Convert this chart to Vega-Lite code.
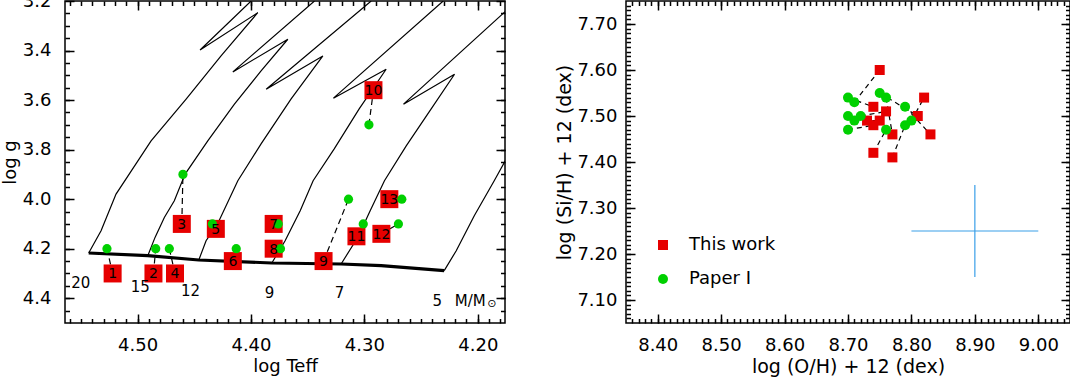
{
  "$schema": "https://vega.github.io/schema/vega-lite/v6.json",
  "padding": {"left": 0, "top": -9, "right": 0, "bottom": 0},
  "background": "white",
  "config": {
    "font": "DejaVu Sans",
    "view": {"stroke": "#000", "strokeWidth": 1.5},
    "axis": {"labelFont": "DejaVu Sans", "titleFont": "DejaVu Sans", "labelColor": "#000", "titleColor": "#000", "tickColor": "#000", "tickWidth": 1.5, "tickOpacity": 1, "grid": false, "domain": false, "titleFontWeight": "normal", "labelFontSize": 18, "titleFontSize": 18, "labelOverlap": false, "labelFlush": false},
    "legend": {"labelColor": "#000", "labelFont": "DejaVu Sans"}
  },
  "resolve": {"legend": {"color": "independent", "shape": "independent"}},
  "datasets": {
    "tracks": [
      {"t": "20", "i": 1, "logT": 4.5431, "logg": 4.2173},
      {"t": "20", "i": 2, "logT": 4.5322, "logg": 4.1274},
      {"t": "20", "i": 3, "logT": 4.5190, "logg": 3.9794},
      {"t": "20", "i": 4, "logT": 4.4881, "logg": 3.7645},
      {"t": "20", "i": 5, "logT": 4.4572, "logg": 3.5964},
      {"t": "20", "i": 6, "logT": 4.4264, "logg": 3.4218},
      {"t": "20", "i": 7, "logT": 4.3940, "logg": 3.2472},
      {"t": "20", "i": 8, "logT": 4.4449, "logg": 3.3976},
      {"t": "20", "i": 9, "logT": 4.3999, "logg": 3.2},
      {"t": "15", "i": 1, "logT": 4.4910, "logg": 4.2282},
      {"t": "15", "i": 2, "logT": 4.4846, "logg": 4.1544},
      {"t": "15", "i": 3, "logT": 4.4764, "logg": 4.0738},
      {"t": "15", "i": 4, "logT": 4.4676, "logg": 4.0065},
      {"t": "15", "i": 5, "logT": 4.4581, "logg": 3.8988},
      {"t": "15", "i": 6, "logT": 4.4381, "logg": 3.7645},
      {"t": "15", "i": 7, "logT": 4.4146, "logg": 3.6165},
      {"t": "15", "i": 8, "logT": 4.3911, "logg": 3.4823},
      {"t": "15", "i": 9, "logT": 4.3675, "logg": 3.3544},
      {"t": "15", "i": 10, "logT": 4.4160, "logg": 3.4863},
      {"t": "15", "i": 11, "logT": 4.3440, "logg": 3.2},
      {"t": "12", "i": 1, "logT": 4.4460, "logg": 4.2456},
      {"t": "12", "i": 2, "logT": 4.4396, "logg": 4.1677},
      {"t": "12", "i": 3, "logT": 4.4294, "logg": 4.0992},
      {"t": "12", "i": 4, "logT": 4.4116, "logg": 3.9258},
      {"t": "12", "i": 5, "logT": 4.3911, "logg": 3.7766},
      {"t": "12", "i": 6, "logT": 4.3646, "logg": 3.5952},
      {"t": "12", "i": 7, "logT": 4.3366, "logg": 3.4218},
      {"t": "12", "i": 8, "logT": 4.3866, "logg": 3.5561},
      {"t": "12", "i": 9, "logT": 4.2940, "logg": 3.2},
      {"t": "9", "i": 1, "logT": 4.3816, "logg": 4.2577},
      {"t": "9", "i": 2, "logT": 4.3699, "logg": 4.1677},
      {"t": "9", "i": 3, "logT": 4.3566, "logg": 4.0468},
      {"t": "9", "i": 4, "logT": 4.3452, "logg": 3.9258},
      {"t": "9", "i": 5, "logT": 4.3266, "logg": 3.7968},
      {"t": "9", "i": 6, "logT": 4.3046, "logg": 3.6355},
      {"t": "9", "i": 7, "logT": 4.2808, "logg": 3.4754},
      {"t": "9", "i": 8, "logT": 4.3273, "logg": 3.5923},
      {"t": "9", "i": 9, "logT": 4.2305, "logg": 3.2},
      {"t": "7", "i": 1, "logT": 4.3205, "logg": 4.2617},
      {"t": "7", "i": 2, "logT": 4.3055, "logg": 4.1516},
      {"t": "7", "i": 3, "logT": 4.2949, "logg": 4.0468},
      {"t": "7", "i": 4, "logT": 4.2823, "logg": 3.9258},
      {"t": "7", "i": 5, "logT": 4.2631, "logg": 3.7847},
      {"t": "7", "i": 6, "logT": 4.2411, "logg": 3.6355},
      {"t": "7", "i": 7, "logT": 4.2205, "logg": 3.4956},
      {"t": "7", "i": 8, "logT": 4.2655, "logg": 3.6165},
      {"t": "7", "i": 9, "logT": 4.1740, "logg": 3.2350},
      {"t": "5", "i": 1, "logT": 4.2296, "logg": 4.2887},
      {"t": "5", "i": 2, "logT": 4.2190, "logg": 4.2081},
      {"t": "5", "i": 3, "logT": 4.2031, "logg": 4.0669},
      {"t": "5", "i": 4, "logT": 4.1855, "logg": 3.9258},
      {"t": "5", "i": 5, "logT": 4.1740, "logg": 3.8300}
    ],
    "zams": [
      {"i": 1, "logT": 4.5431, "logg": 4.2173},
      {"i": 2, "logT": 4.4910, "logg": 4.2282},
      {"i": 3, "logT": 4.4460, "logg": 4.2456},
      {"i": 4, "logT": 4.3816, "logg": 4.2577},
      {"i": 5, "logT": 4.3205, "logg": 4.2617},
      {"i": 6, "logT": 4.2852, "logg": 4.2685},
      {"i": 7, "logT": 4.2296, "logg": 4.2887}
    ],
    "hr": [
      {"star": "1", "src": "This work", "logT": 4.522, "logg": 4.30},
      {"star": "2", "src": "This work", "logT": 4.486, "logg": 4.30},
      {"star": "3", "src": "This work", "logT": 4.461, "logg": 4.10},
      {"star": "4", "src": "This work", "logT": 4.467, "logg": 4.30},
      {"star": "5", "src": "This work", "logT": 4.431, "logg": 4.12},
      {"star": "6", "src": "This work", "logT": 4.416, "logg": 4.25},
      {"star": "7", "src": "This work", "logT": 4.380, "logg": 4.10},
      {"star": "8", "src": "This work", "logT": 4.380, "logg": 4.20},
      {"star": "9", "src": "This work", "logT": 4.336, "logg": 4.25},
      {"star": "10", "src": "This work", "logT": 4.292, "logg": 3.56},
      {"star": "11", "src": "This work", "logT": 4.307, "logg": 4.15},
      {"star": "12", "src": "This work", "logT": 4.285, "logg": 4.14},
      {"star": "13", "src": "This work", "logT": 4.278, "logg": 4.00},
      {"star": "1", "src": "Paper I", "logT": 4.527, "logg": 4.20},
      {"star": "2", "src": "Paper I", "logT": 4.484, "logg": 4.20},
      {"star": "3", "src": "Paper I", "logT": 4.460, "logg": 3.90},
      {"star": "4", "src": "Paper I", "logT": 4.472, "logg": 4.20},
      {"star": "5", "src": "Paper I", "logT": 4.434, "logg": 4.10},
      {"star": "6", "src": "Paper I", "logT": 4.413, "logg": 4.20},
      {"star": "7", "src": "Paper I", "logT": 4.376, "logg": 4.10},
      {"star": "8", "src": "Paper I", "logT": 4.374, "logg": 4.20},
      {"star": "9", "src": "Paper I", "logT": 4.314, "logg": 4.00},
      {"star": "10", "src": "Paper I", "logT": 4.296, "logg": 3.70},
      {"star": "11", "src": "Paper I", "logT": 4.301, "logg": 4.10},
      {"star": "12", "src": "Paper I", "logT": 4.270, "logg": 4.10},
      {"star": "13", "src": "Paper I", "logT": 4.267, "logg": 4.00}
    ],
    "masses": [
      {"label": "20", "logT": 4.550, "logg": 4.340},
      {"label": "15", "logT": 4.4976, "logg": 4.353},
      {"label": "12", "logT": 4.4534, "logg": 4.369},
      {"label": "9", "logT": 4.3837, "logg": 4.380},
      {"label": "7", "logT": 4.322, "logg": 4.380},
      {"label": "5", "logT": 4.2358, "logg": 4.410},
      {"label": "M/M", "logT": 4.2066, "logg": 4.410}
    ],
    "sun": [
      {"label": "⊙", "logT": 4.1875, "logg": 4.424}
    ],
    "abund": [
      {"star": "1", "src": "This work", "OH": 8.75, "SiH": 7.60},
      {"star": "2", "src": "This work", "OH": 8.82, "SiH": 7.54},
      {"star": "3", "src": "This work", "OH": 8.83, "SiH": 7.46},
      {"star": "4", "src": "This work", "OH": 8.77, "SiH": 7.41},
      {"star": "5", "src": "This work", "OH": 8.74, "SiH": 7.42},
      {"star": "6", "src": "This work", "OH": 8.81, "SiH": 7.50},
      {"star": "7", "src": "This work", "OH": 8.77, "SiH": 7.46},
      {"star": "8", "src": "This work", "OH": 8.74, "SiH": 7.52},
      {"star": "9", "src": "This work", "OH": 8.76, "SiH": 7.51},
      {"star": "10", "src": "This work", "OH": 8.73, "SiH": 7.49},
      {"star": "11", "src": "This work", "OH": 8.75, "SiH": 7.49},
      {"star": "12", "src": "This work", "OH": 8.74, "SiH": 7.48},
      {"star": "1", "src": "Paper I", "OH": 8.71, "SiH": 7.53},
      {"star": "2", "src": "Paper I", "OH": 8.80, "SiH": 7.49},
      {"star": "3", "src": "Paper I", "OH": 8.79, "SiH": 7.52},
      {"star": "4", "src": "Paper I", "OH": 8.79, "SiH": 7.48},
      {"star": "5", "src": "Paper I", "OH": 8.76, "SiH": 7.47},
      {"star": "6", "src": "Paper I", "OH": 8.75, "SiH": 7.55},
      {"star": "7", "src": "Paper I", "OH": 8.76, "SiH": 7.54},
      {"star": "8", "src": "Paper I", "OH": 8.70, "SiH": 7.54},
      {"star": "9", "src": "Paper I", "OH": 8.72, "SiH": 7.50},
      {"star": "10", "src": "Paper I", "OH": 8.70, "SiH": 7.50},
      {"star": "11", "src": "Paper I", "OH": 8.71, "SiH": 7.49},
      {"star": "12", "src": "Paper I", "OH": 8.70, "SiH": 7.47}
    ],
    "errh": [{"OH": 8.80, "OH2": 9.00, "SiH": 7.25}],
    "errv": [{"OH": 8.90, "SiH": 7.15, "SiH2": 7.35}]
  },
  "hconcat": [
    {
      "width": 440,
      "height": 322,
      "resolve": {"axis": {"x": "independent", "y": "independent"}},
      "layer": [
        {
          "data": {"name": "tracks"},
          "mark": {"type": "line", "color": "#000", "strokeWidth": 1.2, "clip": true},
          "encoding": {
            "x": {"field": "logT", "type": "quantitative", "scale": {"domain": [4.176, 4.564], "reverse": true, "zero": false, "nice": false},
              "axis": {"orient": "bottom", "values": [4.2, 4.3, 4.4, 4.5], "format": ".2f", "tickSize": -9, "labelPadding": 22, "title": "log Teff", "titlePadding": 3}},
            "y": {"field": "logg", "type": "quantitative", "scale": {"domain": [3.2, 4.5], "reverse": true, "zero": false, "nice": false},
              "axis": {"orient": "left", "values": [3.2, 3.4, 3.6, 3.8, 4.0, 4.2, 4.4], "format": ".1f", "tickSize": -9, "labelPadding": 23, "title": "log g", "titlePadding": 3}},
            "detail": {"field": "t"},
            "order": {"field": "i", "type": "quantitative"}
          }
        },
        {
          "data": {"name": "zams"},
          "mark": {"type": "line", "color": "#000", "strokeWidth": 3.2, "clip": true},
          "encoding": {
            "x": {"field": "logT", "type": "quantitative", "scale": {"domain": [4.176, 4.564], "reverse": true, "zero": false, "nice": false},
              "axis": {"orient": "bottom", "values": [4.18, 4.19, 4.2, 4.21, 4.22, 4.23, 4.24, 4.25, 4.26, 4.27, 4.28, 4.29, 4.3, 4.31, 4.32, 4.33, 4.34, 4.35, 4.36, 4.37, 4.38, 4.39, 4.4, 4.41, 4.42, 4.43, 4.44, 4.45, 4.46, 4.47, 4.48, 4.49, 4.5, 4.51, 4.52, 4.53, 4.54, 4.55, 4.56], "tickSize": -4.5, "labels": false, "title": null}},
            "y": {"field": "logg", "type": "quantitative", "scale": {"domain": [3.2, 4.5], "reverse": true, "zero": false, "nice": false},
              "axis": {"orient": "left", "values": [3.25, 3.3, 3.35, 3.4, 3.45, 3.5, 3.55, 3.6, 3.65, 3.7, 3.75, 3.8, 3.85, 3.9, 3.95, 4.0, 4.05, 4.1, 4.15, 4.2, 4.25, 4.3, 4.35, 4.4, 4.45], "tickSize": -4.5, "labels": false, "title": null}},
            "order": {"field": "i", "type": "quantitative"}
          }
        },
        {
          "data": {"name": "hr"},
          "mark": {"type": "line", "color": "#000", "strokeWidth": 1.2, "strokeDash": [6, 4]},
          "encoding": {
            "x": {"field": "logT", "type": "quantitative", "scale": {"domain": [4.176, 4.564], "reverse": true, "zero": false, "nice": false},
              "axis": {"orient": "top", "values": [4.2, 4.3, 4.4, 4.5], "tickSize": -9, "labels": false, "title": null}},
            "y": {"field": "logg", "type": "quantitative", "scale": {"domain": [3.2, 4.5], "reverse": true, "zero": false, "nice": false},
              "axis": {"orient": "right", "values": [3.2, 3.4, 3.6, 3.8, 4.0, 4.2, 4.4], "tickSize": -9, "labels": false, "title": null}},
            "detail": {"field": "star"}
          }
        },
        {
          "data": {"name": "hr"},
          "transform": [{"filter": "datum.src === 'This work'"}],
          "mark": {"type": "square", "color": "#e60000", "filled": true, "opacity": 1, "size": 324},
          "encoding": {
            "x": {"field": "logT", "type": "quantitative", "scale": {"domain": [4.176, 4.564], "reverse": true, "zero": false, "nice": false},
              "axis": {"orient": "top", "values": [4.18, 4.19, 4.2, 4.21, 4.22, 4.23, 4.24, 4.25, 4.26, 4.27, 4.28, 4.29, 4.3, 4.31, 4.32, 4.33, 4.34, 4.35, 4.36, 4.37, 4.38, 4.39, 4.4, 4.41, 4.42, 4.43, 4.44, 4.45, 4.46, 4.47, 4.48, 4.49, 4.5, 4.51, 4.52, 4.53, 4.54, 4.55, 4.56], "tickSize": -4.5, "labels": false, "title": null}},
            "y": {"field": "logg", "type": "quantitative", "scale": {"domain": [3.2, 4.5], "reverse": true, "zero": false, "nice": false},
              "axis": {"orient": "right", "values": [3.25, 3.3, 3.35, 3.4, 3.45, 3.5, 3.55, 3.6, 3.65, 3.7, 3.75, 3.8, 3.85, 3.9, 3.95, 4.0, 4.05, 4.1, 4.15, 4.2, 4.25, 4.3, 4.35, 4.4, 4.45], "tickSize": -4.5, "labels": false, "title": null}}
          }
        },
        {
          "data": {"name": "hr"},
          "transform": [{"filter": "datum.src === 'Paper I'"}],
          "mark": {"type": "circle", "color": "#00d000", "opacity": 1, "size": 85},
          "encoding": {
            "x": {"field": "logT", "type": "quantitative", "scale": {"domain": [4.176, 4.564], "reverse": true, "zero": false, "nice": false}, "axis": null},
            "y": {"field": "logg", "type": "quantitative", "scale": {"domain": [3.2, 4.5], "reverse": true, "zero": false, "nice": false}, "axis": null}
          }
        },
        {
          "data": {"name": "hr"},
          "transform": [{"filter": "datum.src === 'This work'"}],
          "mark": {"type": "text", "color": "#000", "font": "DejaVu Sans", "fontSize": 14, "align": "center", "baseline": "middle", "dy": 1},
          "encoding": {
            "x": {"field": "logT", "type": "quantitative", "axis": null},
            "y": {"field": "logg", "type": "quantitative", "axis": null},
            "text": {"field": "star"}
          }
        },
        {
          "data": {"name": "masses"},
          "mark": {"type": "text", "color": "#000", "font": "DejaVu Sans", "fontSize": 15, "align": "center", "baseline": "middle"},
          "encoding": {
            "x": {"field": "logT", "type": "quantitative", "axis": null},
            "y": {"field": "logg", "type": "quantitative", "axis": null},
            "text": {"field": "label"}
          }
        },
        {
          "data": {"name": "sun"},
          "mark": {"type": "text", "color": "#000", "font": "DejaVu Sans", "fontSize": 11, "align": "center", "baseline": "middle"},
          "encoding": {
            "x": {"field": "logT", "type": "quantitative", "axis": null},
            "y": {"field": "logg", "type": "quantitative", "axis": null},
            "text": {"field": "label"}
          }
        }
      ]
    },
    {
      "width": 444,
      "height": 322,
      "resolve": {"axis": {"x": "independent", "y": "independent"}},
      "layer": [
        {
          "data": {"name": "abund"},
          "mark": {"type": "line", "color": "#000", "strokeWidth": 1.2, "strokeDash": [5, 4]},
          "encoding": {
            "x": {"field": "OH", "type": "quantitative", "scale": {"domain": [8.35, 9.05], "zero": false, "nice": false},
              "axis": {"orient": "bottom", "values": [8.4, 8.5, 8.6, 8.7, 8.8, 8.9, 9.0], "format": ".2f", "tickSize": -9, "labelPadding": 22, "title": "log (O/H) + 12 (dex)", "titleFontSize": 19, "titlePadding": 3}},
            "y": {"field": "SiH", "type": "quantitative", "scale": {"domain": [7.05, 7.75], "zero": false, "nice": false},
              "axis": {"orient": "left", "values": [7.1, 7.2, 7.3, 7.4, 7.5, 7.6, 7.7], "format": ".2f", "tickSize": -9, "labelPadding": 18, "title": "log (Si/H) + 12 (dex)", "titleFontSize": 19, "titlePadding": 2}},
            "detail": {"field": "star"}
          }
        },
        {
          "data": {"name": "abund"},
          "mark": {"type": "point", "filled": true, "opacity": 1, "size": 100},
          "encoding": {
            "x": {"field": "OH", "type": "quantitative", "scale": {"domain": [8.35, 9.05], "zero": false, "nice": false},
              "axis": {"orient": "bottom", "values": [8.36, 8.37, 8.38, 8.39, 8.4, 8.41, 8.42, 8.43, 8.44, 8.45, 8.46, 8.47, 8.48, 8.49, 8.5, 8.51, 8.52, 8.53, 8.54, 8.55, 8.56, 8.57, 8.58, 8.59, 8.6, 8.61, 8.62, 8.63, 8.64, 8.65, 8.66, 8.67, 8.68, 8.69, 8.7, 8.71, 8.72, 8.73, 8.74, 8.75, 8.76, 8.77, 8.78, 8.79, 8.8, 8.81, 8.82, 8.83, 8.84, 8.85, 8.86, 8.87, 8.88, 8.89, 8.9, 8.91, 8.92, 8.93, 8.94, 8.95, 8.96, 8.97, 8.98, 8.99, 9.0, 9.01, 9.02, 9.03, 9.04], "tickSize": -4.5, "labels": false, "title": null}},
            "y": {"field": "SiH", "type": "quantitative", "scale": {"domain": [7.05, 7.75], "zero": false, "nice": false},
              "axis": {"orient": "left", "values": [7.06, 7.07, 7.08, 7.09, 7.1, 7.11, 7.12, 7.13, 7.14, 7.15, 7.16, 7.17, 7.18, 7.19, 7.2, 7.21, 7.22, 7.23, 7.24, 7.25, 7.26, 7.27, 7.28, 7.29, 7.3, 7.31, 7.32, 7.33, 7.34, 7.35, 7.36, 7.37, 7.38, 7.39, 7.4, 7.41, 7.42, 7.43, 7.44, 7.45, 7.46, 7.47, 7.48, 7.49, 7.5, 7.51, 7.52, 7.53, 7.54, 7.55, 7.56, 7.57, 7.58, 7.59, 7.6, 7.61, 7.62, 7.63, 7.64, 7.65, 7.66, 7.67, 7.68, 7.69, 7.7, 7.71, 7.72, 7.73, 7.74], "tickSize": -4.5, "labels": false, "title": null}},
            "color": {"field": "src", "type": "nominal", "scale": {"domain": ["This work", "Paper I"], "range": ["#e60000", "#00d000"]},
              "legend": {"orient": "none", "legendX": 28, "legendY": 235, "title": null, "labelFontSize": 18, "symbolSize": 100, "labelOffset": 17, "rowPadding": 16, "padding": 0, "symbolStrokeWidth": 0}},
            "shape": {"field": "src", "type": "nominal", "scale": {"domain": ["This work", "Paper I"], "range": ["square", "circle"]},
              "legend": {"orient": "none", "legendX": 28, "legendY": 235, "title": null, "labelFontSize": 18, "symbolSize": 100, "labelOffset": 17, "rowPadding": 16, "padding": 0, "symbolStrokeWidth": 0}}
          }
        },
        {
          "data": {"name": "errh"},
          "mark": {"type": "rule", "color": "#3a9fe8", "strokeWidth": 1.2},
          "encoding": {
            "x": {"field": "OH", "type": "quantitative", "scale": {"domain": [8.35, 9.05], "zero": false, "nice": false},
              "axis": {"orient": "top", "values": [8.4, 8.5, 8.6, 8.7, 8.8, 8.9, 9.0], "tickSize": -9, "labels": false, "title": null}},
            "x2": {"field": "OH2"},
            "y": {"field": "SiH", "type": "quantitative", "scale": {"domain": [7.05, 7.75], "zero": false, "nice": false},
              "axis": {"orient": "right", "values": [7.1, 7.2, 7.3, 7.4, 7.5, 7.6, 7.7], "tickSize": -9, "labels": false, "title": null}}
          }
        },
        {
          "data": {"name": "errv"},
          "mark": {"type": "rule", "color": "#3a9fe8", "strokeWidth": 1.2},
          "encoding": {
            "x": {"field": "OH", "type": "quantitative", "scale": {"domain": [8.35, 9.05], "zero": false, "nice": false},
              "axis": {"orient": "top", "values": [8.36, 8.37, 8.38, 8.39, 8.4, 8.41, 8.42, 8.43, 8.44, 8.45, 8.46, 8.47, 8.48, 8.49, 8.5, 8.51, 8.52, 8.53, 8.54, 8.55, 8.56, 8.57, 8.58, 8.59, 8.6, 8.61, 8.62, 8.63, 8.64, 8.65, 8.66, 8.67, 8.68, 8.69, 8.7, 8.71, 8.72, 8.73, 8.74, 8.75, 8.76, 8.77, 8.78, 8.79, 8.8, 8.81, 8.82, 8.83, 8.84, 8.85, 8.86, 8.87, 8.88, 8.89, 8.9, 8.91, 8.92, 8.93, 8.94, 8.95, 8.96, 8.97, 8.98, 8.99, 9.0, 9.01, 9.02, 9.03, 9.04], "tickSize": -4.5, "labels": false, "title": null}},
            "y": {"field": "SiH", "type": "quantitative", "scale": {"domain": [7.05, 7.75], "zero": false, "nice": false},
              "axis": {"orient": "right", "values": [7.06, 7.07, 7.08, 7.09, 7.1, 7.11, 7.12, 7.13, 7.14, 7.15, 7.16, 7.17, 7.18, 7.19, 7.2, 7.21, 7.22, 7.23, 7.24, 7.25, 7.26, 7.27, 7.28, 7.29, 7.3, 7.31, 7.32, 7.33, 7.34, 7.35, 7.36, 7.37, 7.38, 7.39, 7.4, 7.41, 7.42, 7.43, 7.44, 7.45, 7.46, 7.47, 7.48, 7.49, 7.5, 7.51, 7.52, 7.53, 7.54, 7.55, 7.56, 7.57, 7.58, 7.59, 7.6, 7.61, 7.62, 7.63, 7.64, 7.65, 7.66, 7.67, 7.68, 7.69, 7.7, 7.71, 7.72, 7.73, 7.74], "tickSize": -4.5, "labels": false, "title": null}},
            "y2": {"field": "SiH2"}
          }
        }
      ]
    }
  ],
  "spacing": 121,
  "bounds": "flush"
}
